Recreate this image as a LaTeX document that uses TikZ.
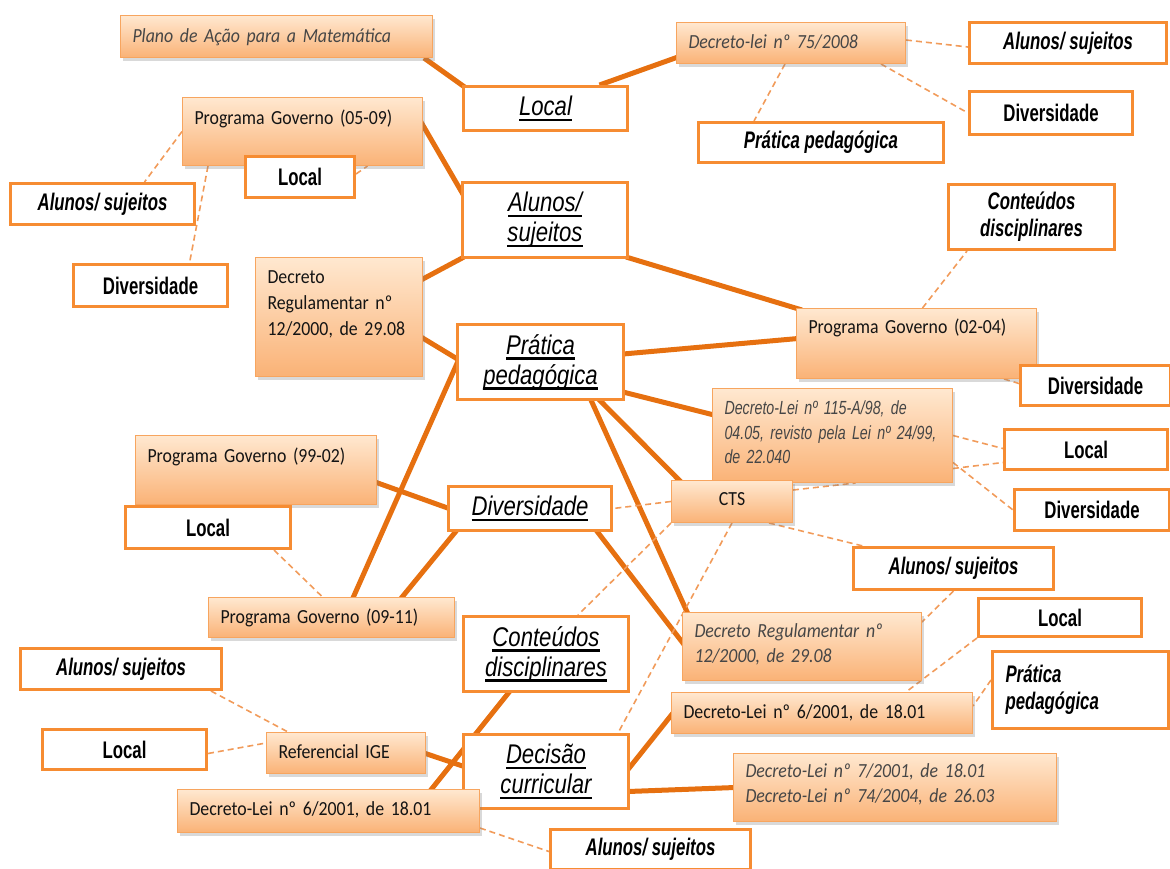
\documentclass[tikz,border=0pt]{standalone}
\usepackage{fontspec}
\usepackage{tikz}
\usetikzlibrary{calc, shadows, backgrounds}

\newfontfamily\hubfam[FakeStretch=0.82]{Liberation Sans}
\newfontfamily\leaffam[FakeStretch=0.70]{Liberation Sans}
\newfontfamily\docfam[FakeStretch=0.89]{Carlito}
\newfontfamily\narrowfam[FakeStretch=0.75]{Liberation Sans}

\definecolor{boxorange}{RGB}{246,140,50}
\definecolor{linkorange}{RGB}{230,112,16}
\definecolor{sideorange}{RGB}{241,155,90}
\definecolor{doctop}{RGB}{255,232,208}
\definecolor{docbot}{RGB}{250,178,118}
\definecolor{docline}{RGB}{247,165,95}
\definecolor{doctext}{RGB}{20,20,20}
\definecolor{docgrey}{RGB}{70,70,70}

\newcommand{\hubline}[1]{\setbox0\hbox{#1}\rlap{\rule[-5.5pt]{\wd0}{2.4pt}}\box0}
\protected\def\docspace{\spaceskip=4pt\relax}

\tikzset{
	hub/.style={
		draw=boxorange,
		line width=3pt,
		fill=white,
		inner sep=0pt,
		align=center,
		font=\hubfam\itshape\fontsize{27}{30}\selectfont
	},
	leaf/.style={
		draw=boxorange,
		line width=3pt,
		fill=white,
		inner sep=0pt,
		align=center,
		font=\leaffam\bfseries\fontsize{24}{27}\selectfont
	},
	leafit/.style={
		leaf,
		font=\leaffam\bfseries\itshape\fontsize{24}{27}\selectfont
	},
	doc/.style={
		draw=docline,
		line width=1pt,
		top color=doctop,
		bottom color=docbot,
		drop shadow={shadow xshift=2pt, shadow yshift=-3pt, opacity=.3},
		inner xsep=12pt,
		inner ysep=0pt,
		align=left,
		text=doctext,
		font=\docfam\fontsize{20}{26}\selectfont\docspace
	},
	docit/.style={
		text=docgrey,
		font=\docfam\itshape\fontsize{20}{25}\selectfont\docspace
	},
	docnarrow/.style={
		text=docgrey,
		font=\narrowfam\itshape\fontsize{19}{24.5}\selectfont\docspace
	},
	link/.style={
		draw=linkorange,
		line width=5pt
	},
	side/.style={
		draw=sideorange,
		line width=1.6pt,
		dash pattern=on 6pt off 4pt
	}
}

\begin{document}
\begin{tikzpicture}[x=1pt, y=-1pt, every node/.append style={anchor=north west}]
	\useasboundingbox (0,0) rectangle (1170,868);

	% central themes
	\node[hub, minimum width=164pt, minimum height=44pt] (loccen) at (462,85) {\hubline{Local}};
	\node[hub, minimum width=165pt, minimum height=75pt] (alucen) at (461,181) {\hubline{Alunos/}\\\hubline{sujeitos}};
	\node[hub, minimum width=166pt, minimum height=75pt] (pratcen) at (456,323) {\hubline{Prática}\\\hubline{pedagógica}};
	\node[hub, minimum width=163pt, minimum height=44pt] (divcen) at (447,485) {\hubline{Diversidade}};
	\node[hub, minimum width=165pt, minimum height=75pt] (contcen) at (462,615) {\hubline{Conteúdos}\\\hubline{disciplinares}};
	\node[hub, minimum width=165pt, minimum height=74pt] (deccen) at (462,733) {\hubline{Decisão}\\\hubline{curricular}};

	% documents
	\node[doc, docit, text width=288pt, text height=27pt, text depth=15pt] (plano) at (120,15) {Plano de Ação para a Matemática};
	\node[doc, docit, text width=205pt, text height=26pt, text depth=15pt] (dl7508) at (676,22) {Decreto-lei nº 75/2008};
	\node[doc, text width=216pt, text height=27pt, text depth=41pt] (pg0509) at (182,97) {Programa Governo (05-09)};
	\node[doc, text width=143pt, text height=26pt, text depth=93pt] (dreg1) at (255,257) {Decreto\\Regulamentar nº\\12/2000, de 29.08};
	\node[doc, text width=216pt, text height=25pt, text depth=45pt] (pg0204) at (796,308) {Programa Governo (02-04)};
	\node[doc, docnarrow, text width=216pt, text height=26pt, text depth=68pt] (dl115) at (712,388) {Decreto-Lei nº 115-A/98, de\\04.05, revisto pela Lei nº 24/99,\\de 22.040};
	\node[doc, text width=217pt, text height=27pt, text depth=42pt] (pg9902) at (135,435) {Programa Governo (99-02)};
	\node[doc, align=center, text width=97pt, text height=25pt, text depth=17pt] (cts) at (671,480) {CTS};
	\node[doc, text width=222pt, text height=26pt, text depth=14pt] (pg0911) at (208,597) {Programa Governo (09-11)};
	\node[doc, docit, text width=215pt, text height=25pt, text depth=43pt] (dreg2) at (682,612) {Decreto Regulamentar nº\\12/2000, de 29.08};
	\node[doc, text width=277pt, text height=26pt, text depth=15pt] (dl62b) at (671,692) {Decreto-Lei nº 6/2001, de 18.01};
	\node[doc, text width=135pt, text height=26pt, text depth=15pt] (refige) at (266,732) {Referencial IGE};
	\node[doc, docit, text width=299pt, text height=24pt, text depth=44pt] (dl7204) at (733,753) {Decreto-Lei nº 7/2001, de 18.01\\Decreto-Lei nº 74/2004, de 26.03};
	\node[doc, text width=278pt, text height=26pt, text depth=17pt] (dl62a) at (177,789) {Decreto-Lei nº 6/2001, de 18.01};

	% small theme boxes
	\node[leafit, minimum width=197pt, minimum height=41pt] (alu1) at (968,21) {Alunos/ sujeitos};
	\node[leaf, minimum width=163pt, minimum height=43pt] (div1) at (968,90) {Diversidade};
	\node[leafit, minimum width=245pt, minimum height=40pt] (prat1) at (697,121) {Prática pedagógica};
	\node[leaf, minimum width=109pt, minimum height=41pt] (loc1) at (244,155) {Local};
	\node[leafit, minimum width=184pt, minimum height=41pt] (alu2) at (9,182) {Alunos/ sujeitos};
	\node[leafit, minimum width=166pt, minimum height=65pt] (cont1) at (947,183) {Conteúdos\\disciplinares};
	\node[leaf, minimum width=154pt, minimum height=42pt] (div2) at (72,263) {Diversidade};
	\node[leaf, minimum width=150pt, minimum height=40pt] (div3) at (1019,364) {Diversidade};
	\node[leaf, minimum width=163pt, minimum height=40pt] (loc3) at (1003,428) {Local};
	\node[leaf, minimum width=155pt, minimum height=41pt] (div4) at (1013,488) {Diversidade};
	\node[leaf, minimum width=165pt, minimum height=42pt] (loc4) at (124,505) {Local};
	\node[leafit, minimum width=200pt, minimum height=42pt] (alu3) at (852,546) {Alunos/ sujeitos};
	\node[leaf, minimum width=163pt, minimum height=38pt] (loc5) at (977,597) {Local};
	\node[leafit, minimum width=201pt, minimum height=41pt] (alu4) at (19,647) {Alunos/ sujeitos};
	\node[leafit, align=left, text width=150pt, inner xsep=13pt, minimum height=77pt] (prat2) at (991,650) {Prática\\pedagógica};
	\node[leaf, minimum width=164pt, minimum height=40pt] (loc6) at (41,728) {Local};
	\node[leafit, minimum width=200pt, minimum height=40pt] (alu5) at (549,828) {Alunos/ sujeitos};

	\begin{scope}[on background layer]
		% thick links
		\draw[link] ($(plano.south east)+(-9,0)$) -- ($(loccen.north west)+(4,3)$);
		\draw[link] ($(loccen.north)+(54,0)$) -- ($(dl7508.south west)+(2,-7)$);
		\draw[link] ($(pg0509.north east)+(-2,25)$) -- ($(alucen.north west)+(3,15)$);
		\draw[link] ($(dreg1.north east)+(-2,23)$) -- ($(alucen.south west)+(3,-2)$);
		\draw[link] ($(dreg1.north east)+(-2,80)$) -- ($(pratcen.west)+(3,-2)$);
		\draw[link] ($(pratcen.west)+(3,-3)$) -- ($(pg0911.north)+(21,2)$);
		\draw[link] ($(alucen.south east)+(-3,-2)$) -- ($(pg0204.north west)+(6,2)$);
		\draw[link] ($(pratcen.east)+(-2,-8)$) -- ($(pg0204.west)+(2,-5)$);
		\draw[link] ($(pratcen.south east)+(-2,-9)$) -- ($(dl115.north west)+(2,27)$);
		\draw[link] ($(pratcen.south)+(58,-2)$) -- ($(cts.north west)+(10,2)$);
		\draw[link] ($(pratcen.south)+(50,-2)$) -- ($(dreg2.north west)+(6,2)$);
		\draw[link] ($(pg9902.east)+(-2,12)$) -- ($(divcen.west)+(2,0)$);
		\draw[link] ($(divcen.south west)+(10,-2)$) -- ($(pg0911.north)+(69,2)$);
		\draw[link] ($(divcen.south east)+(-17,-2)$) -- ($(dreg2.west)+(2,-2)$);
		\draw[link] ($(contcen.south)+(-36,-2)$) -- ($(dl62a.north east)+(-50,2)$);
		\draw[link] ($(refige.east)+(-2,0)$) -- ($(deccen.west)+(2,-5)$);
		\draw[link] ($(deccen.east)+(-2,-2)$) -- ($(dl62b.west)+(2,0)$);
		\draw[link] ($(deccen.east)+(-2,20)$) -- ($(dl7204.west)+(2,0)$);

		% dashed links
		\draw[side] ($(dl7508.east)+(0,-3)$) -- ($(alu1.west)+(0,4)$);
		\draw[side] ($(dl7508.south east)+(-25,0)$) -- (div1.west);
		\draw[side] ($(dl7508.south)+(-6,0)$) -- ($(prat1.north)+(-67,0)$);
		\draw[side] (pg0509.west) -- ($(alu2.north)+(42,0)$);
		\draw[side] ($(pg0509.south west)+(26,0)$) -- ($(div2.north)+(39,0)$);
		\draw[side] ($(loc1.east)+(0,-3)$) -- ($(pg0509.south)+(65,0)$);
		\draw[side] ($(pg0204.north)+(6,0)$) -- ($(cont1.south west)+(20,0)$);
		\draw[side] ($(pg0204.south east)+(-33,0)$) -- ($(div3.west)+(0,-2)$);
		\draw[side] (dl115.east) -- ($(loc3.west)+(0,-1)$);
		\draw[side] ($(dl115.east)+(0,33)$) -- ($(loc3.west)+(0,13)$);
		\draw[side] ($(dl115.east)+(0,27)$) -- (div4.west);
		\draw[side] ($(cts.north east)+(0,10)$) -- ($(dl115.south)+(23,0)$);
		\draw[side] (cts.west) -- (divcen.east);
		\draw[side] (cts.south west) -- ($(contcen.north)+(32,0)$);
		\draw[side] (cts.south) -- ($(deccen.north)+(72,0)$);
		\draw[side] ($(cts.south east)+(-24,0)$) -- ($(alu3.north west)+(11,0)$);
		\draw[side] (alu3.south) -- ($(dreg2.north east)+(0,10)$);
		\draw[side] (loc5.south west) -- ($(dl62b.north east)+(-67,0)$);
		\draw[side] ($(prat2.west)+(0,-10)$) -- ($(dl62b.east)+(0,-7)$);
		\draw[side] ($(loc4.south)+(66,0)$) -- ($(pg0911.north)+(-9,0)$);
		\draw[side] ($(alu4.south east)+(-12,0)$) -- ($(refige.north west)+(22,0)$);
		\draw[side] ($(loc6.east)+(0,4)$) -- ($(refige.west)+(0,-10)$);
		\draw[side] ($(dl62a.south east)+(0,-5)$) -- ($(alu5.west)+(0,2)$);
	\end{scope}
\end{tikzpicture}
\end{document}
